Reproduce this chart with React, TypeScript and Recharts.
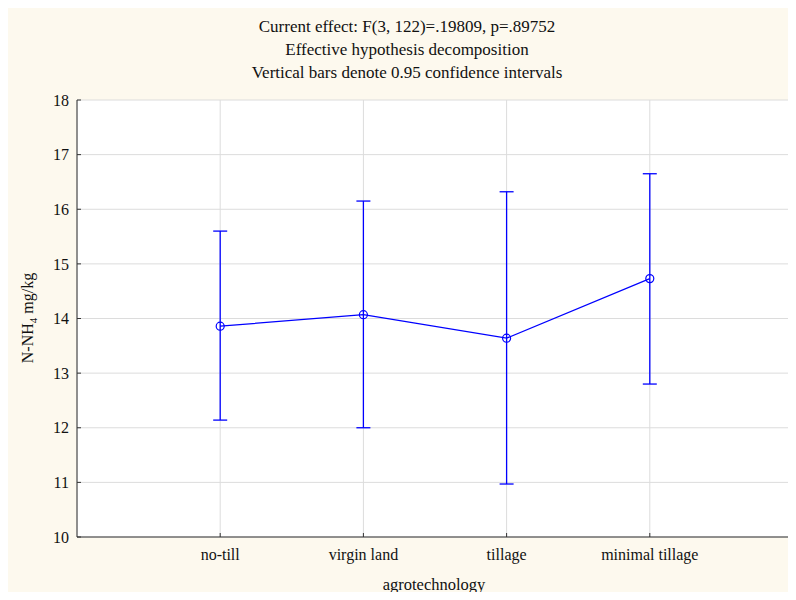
import React from "react";
import {
  ComposedChart,
  Line,
  ErrorBar,
  XAxis,
  YAxis,
  CartesianGrid,
} from "recharts";

const categories = ["no-till", "virgin land", "tillage", "minimal tillage"];
const means = [13.86, 14.07, 13.64, 14.73];
const ciLow = [12.14, 12.0, 10.97, 12.8];
const ciHigh = [15.6, 16.15, 16.32, 16.65];
const yTicks = [10, 11, 12, 13, 14, 15, 16, 17, 18];
const xTicks = [1, 2, 3, 4];
const titleLines = [
  "Current effect: F(3, 122)=.19809, p=.89752",
  "Effective hypothesis decomposition",
  "Vertical bars denote 0.95 confidence intervals",
];

const data = categories.map((name, i) => ({
  x: i + 1,
  name,
  mean: means[i],
  err: [means[i] - ciLow[i], ciHigh[i] - means[i]],
}));

const serif = '"Liberation Serif", "Times New Roman", serif';
const blue = "#0000ff";
const axisColor = "#333333";
const tickStyle = { fontFamily: serif, fontSize: 16, fill: "#111" };

export default function App() {
  return (
    <div
      style={{
        position: "relative",
        width: 796,
        height: 600,
        margin: -8,
        overflow: "hidden",
        background: "#fff",
        fontFamily: serif,
      }}
    >
      {/* tail of the page text above the figure */}
      <div
        style={{
          position: "absolute",
          left: -4,
          top: -15.5,
          fontSize: 24,
          lineHeight: "24px",
          whiteSpace: "nowrap",
          color: "#000",
        }}
      >
        n methods is almost the same (Figure 2).
      </div>
      <div
        style={{
          position: "absolute",
          left: 5,
          top: 8,
          right: 0,
          bottom: 2,
          background: "#fdf9ee",
        }}
      />
      <div style={{ position: "absolute", left: 0, top: 0 }}>
        <ComposedChart
          width={796}
          height={600}
          data={data}
          margin={{ top: 100, right: 3, bottom: 33, left: 37 }}
        >
          <CartesianGrid stroke="#dcdcdc" fill="#ffffff" />
          <XAxis
            dataKey="x"
            type="number"
            domain={[0, 5]}
            ticks={xTicks}
            tickFormatter={(v) => categories[v - 1]}
            height={30}
            stroke={axisColor}
            tickSize={-4}
            tickMargin={16}
            tick={tickStyle}
          />
          <XAxis
            xAxisId="top"
            dataKey="x"
            type="number"
            orientation="top"
            domain={[0, 5]}
            ticks={xTicks}
            height={0}
            stroke={axisColor}
            tick={false}
            tickLine={false}
          />
          <YAxis
            type="number"
            domain={[10, 18]}
            ticks={yTicks}
            width={40}
            stroke={axisColor}
            tickSize={-4}
            tickMargin={12}
            tick={tickStyle}
            interval={0}
          />
          <YAxis
            yAxisId="r"
            orientation="right"
            type="number"
            domain={[10, 18]}
            ticks={yTicks}
            width={0}
            stroke={axisColor}
            tickSize={-4}
            tick={false}
          />
          <Line
            dataKey="mean"
            stroke={blue}
            strokeWidth={1.2}
            dot={{ r: 4, stroke: blue, strokeWidth: 1.2, fill: "none" }}
            isAnimationActive={false}
          >
            <ErrorBar
              dataKey="err"
              width={7}
              stroke={blue}
              strokeWidth={1.3}
              direction="y"
            />
          </Line>
        </ComposedChart>
      </div>
      {titleLines.map((t, i) => (
        <div
          key={t}
          style={{
            position: "absolute",
            left: 407,
            top: 27 + i * 23,
            transform: "translate(-50%, -50%)",
            fontSize: 17,
            whiteSpace: "nowrap",
            color: "#111",
          }}
        >
          {t}
        </div>
      ))}
      <div
        style={{
          position: "absolute",
          left: 29,
          top: 318,
          transform: "translate(-50%, -50%) rotate(-90deg)",
          fontSize: 16,
          whiteSpace: "nowrap",
          color: "#111",
        }}
      >
        N-NH<sub style={{ fontSize: 11 }}>4</sub> mg/kg
      </div>
      <div
        style={{
          position: "absolute",
          left: 434,
          top: 585,
          transform: "translate(-50%, -50%)",
          fontSize: 16.5,
          whiteSpace: "nowrap",
          color: "#111",
        }}
      >
        agrotechnology
      </div>
    </div>
  );
}
